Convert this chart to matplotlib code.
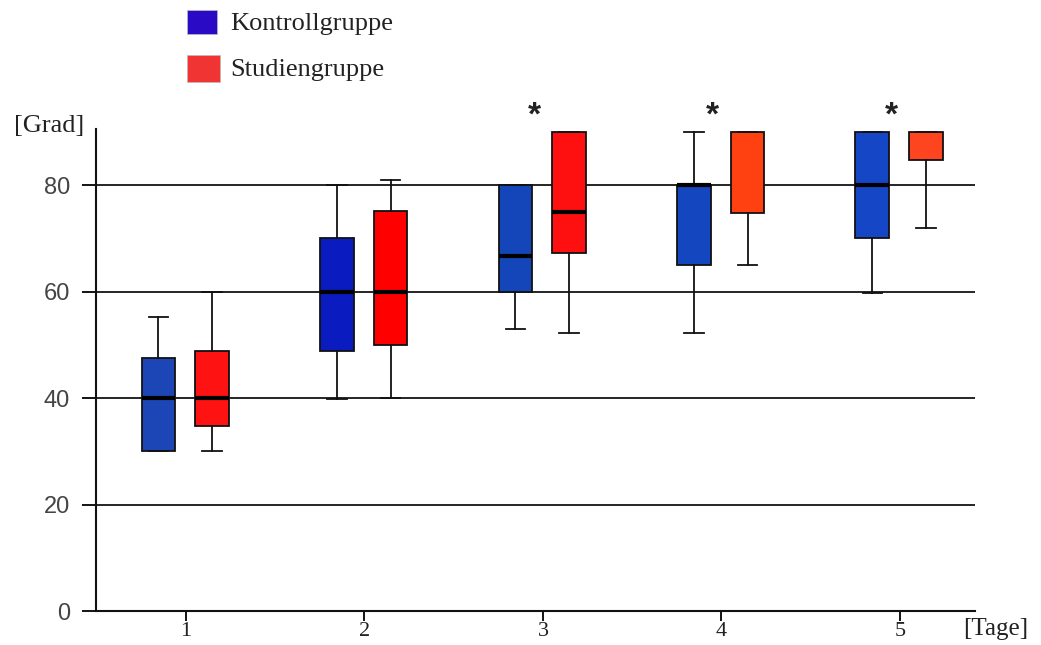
"""Beweglichkeit im Verlauf: Boxplots Kontroll- vs. Studiengruppe pro Tag."""
import matplotlib
matplotlib.use("Agg")
import matplotlib.pyplot as plt
from matplotlib.patches import Rectangle

# ---------------------------
# Daten (Grad)
# ---------------------------
TAGE = [1, 2, 3, 4, 5]

KONTROLLE_Q1 = [30, 48.8, 60, 65, 70]
KONTROLLE_MED = [40, 60, 66.6, 80, 80]
KONTROLLE_Q3 = [47.6, 70, 80, 80, 90]
KONTROLLE_MIN = [30, 39.8, 53, 52.2, 59.7]
KONTROLLE_MAX = [55.2, 80, 80, 90, 90]

STUDIE_Q1 = [34.7, 50, 67.2, 74.7, 84.8]
STUDIE_MED = [40, 60, 74.9, 90, 90]
STUDIE_Q3 = [48.8, 75.1, 90, 90, 90]
STUDIE_MIN = [30, 40, 52.2, 64.9, 71.9]
STUDIE_MAX = [60, 81, 90, 90, 90]

SIGNIFIKANT = [3, 4, 5]  # Tage mit *

FARBEN_KONTROLLE = ["#1c46b6", "#0a1cc0", "#1446ba", "#1446c0", "#1446c6"]
FARBEN_STUDIE = ["#ff1212", "#ff0000", "#ff1010", "#ff4010", "#ff4420"]

SERIF = ["Liberation Serif", "DejaVu Serif"]
SANS = ["Liberation Sans", "DejaVu Sans"]


def stats(q1, med, q3, lo, hi):
    return [dict(q1=a, med=m, q3=b, whislo=l, whishi=h, fliers=[])
            for a, m, b, l, h in zip(q1, med, q3, lo, hi)]


fig = plt.figure(figsize=(10.41, 6.45), dpi=100)
ax = fig.add_axes([0.0925, 0.0527, 0.844, 0.747])

ax.set_xlim(0.4975, 5.42)
ax.set_ylim(0, 90.5)

ax.set_yticks([0, 20, 40, 60, 80])
ax.yaxis.grid(True, color="black", linewidth=1.2, zorder=0)
ax.set_axisbelow(True)

box_kw = dict(widths=0.19, capwidths=0.11, patch_artist=True, showfliers=False,
              boxprops=dict(edgecolor="#111111", linewidth=1.3),
              whiskerprops=dict(color="#111111", linewidth=1.3),
              capprops=dict(color="#111111", linewidth=1.3),
              medianprops=dict(color="black", linewidth=3, solid_capstyle="butt"),
              manage_ticks=False, zorder=3)

groups = [
    (stats(KONTROLLE_Q1, KONTROLLE_MED, KONTROLLE_Q3, KONTROLLE_MIN, KONTROLLE_MAX),
     -0.154, FARBEN_KONTROLLE),
    (stats(STUDIE_Q1, STUDIE_MED, STUDIE_Q3, STUDIE_MIN, STUDIE_MAX),
     0.146, FARBEN_STUDIE),
]
for st, offset, farben in groups:
    bp = ax.bxp(st, positions=[t + offset for t in TAGE], **box_kw)
    for patch, col in zip(bp["boxes"], farben):
        patch.set_facecolor(col)
    # Median am oberen Boxrand (90°) wird nicht extra hervorgehoben
    for line, s in zip(bp["medians"], st):
        if s["med"] >= s["q3"] and s["q3"] >= 90:
            line.set_visible(False)

for t in SIGNIFIKANT:
    ax.text(t - 0.05, 93.0, "*", ha="center", va="center", fontsize=24,
            fontweight="bold", family=SANS, color="#222222", clip_on=False)

for side in ("top", "right"):
    ax.spines[side].set_visible(False)
for side in ("left", "bottom"):
    ax.spines[side].set_linewidth(1.5)
    ax.spines[side].set_color("#111111")

ax.set_xticks(TAGE)
ax.set_xticklabels([str(t) for t in TAGE], family=SERIF, fontsize=16, color="#222222")
ax.tick_params(axis="x", length=7, width=1.3, pad=1)
ax.tick_params(axis="y", length=10, width=1.3, pad=9, labelsize=17, labelcolor="#444444")
for lab in ax.get_yticklabels():
    lab.set_family(SANS)

fig.text(14 / 1041, 1 - 126 / 645, "[Grad]", family=SERIF, fontsize=19,
         ha="left", va="center", color="#222222")
fig.text(963 / 1041, 1 - 629 / 645, "[Tage]", family=SERIF, fontsize=18,
         ha="left", va="center", color="#222222")

# Legende oben
legende = [("Kontrollgruppe", "#2a0ac4", (187, 10, 30, 24), 24),
           ("Studiengruppe", "#f03434", (187, 55, 33, 27), 70)]
for text, col, (x0, y0, w, h), ytext in legende:
    fig.add_artist(Rectangle((x0 / 1041, 1 - (y0 + h) / 645), w / 1041, h / 645,
                             transform=fig.transFigure, facecolor=col,
                             edgecolor="#bbbbbb", linewidth=0.5))
    fig.text(230 / 1041, 1 - ytext / 645, text, family=SERIF, fontsize=19,
             ha="left", va="center", color="#222222")

fig.savefig("out.png", dpi=100)
